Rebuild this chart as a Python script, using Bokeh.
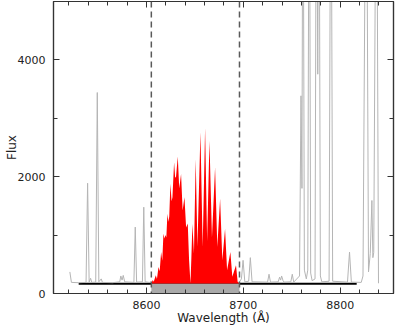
from bokeh.plotting import figure
from bokeh.models import (Range1d, FixedTicker, LinearAxis, Span,
                          CustomJSTickFormatter)
from bokeh.embed import file_html
from bokeh.resources import INLINE

# ---------------- data ----------------
GRAY_LEFT_WL = [8520.9, 8522.5, 8530.0, 8537.6, 8539.2, 8540.8, 8542.3, 8543.5,
                8547.6, 8549.2, 8550.8, 8553.3, 8554.5, 8565.0, 8572.4, 8573.5,
                8574.8, 8576.0, 8577.5, 8587.0, 8588.4, 8589.8, 8595.8, 8597.2,
                8598.6, 8603.0, 8605.0]
GRAY_LEFT_FLUX = [369, 190, 185, 190, 1888, 195, 260, 190,
                  195, 3441, 200, 250, 190, 185, 200, 300,
                  230, 310, 200, 190, 1137, 195, 200, 1478,
                  200, 190, 200]

GRAY_RIGHT_WL = [8696.0, 8698.0, 8699.7, 8701.5, 8705.5, 8707.2, 8709.0, 8725.0,
                 8726.5, 8728.0, 8736.0, 8737.4, 8738.5, 8739.5, 8741.0, 8742.0,
                 8749.0, 8750.5, 8752.0, 8758.0, 8759.5, 8760.5, 8761.5, 8763.0,
                 8765.0, 8766.5, 8768.0, 8769.5, 8771.0, 8774.0, 8775.5, 8776.8,
                 8778.0, 8779.5, 8781.0, 8788.5, 8790.4, 8792.2, 8807.5, 8809.6,
                 8811.5, 8821.7, 8823.5, 8826.9, 8829.2, 8831.0, 8832.7, 8833.7,
                 8834.6, 8837.4, 8839.5]
GRAY_RIGHT_FLUX = [200, 250, 568, 200, 210, 614, 200, 195,
                   330, 195, 200, 280, 230, 300, 220, 195,
                   200, 330, 195, 300, 3385, 1800, 9000, 400,
                   250, 400, 9000, 350, 220, 250, 9000, 3755,
                   9000, 300, 200, 210, 9000, 210, 195, 710,
                   195, 190, 300, 9000, 369, 683, 1593, 614,
                   700, 9000, 175]

RED_WL = [8605.0, 8606.5, 8607.5, 8609.6, 8610.8, 8612.4, 8613.6, 8615.1,
          8616.3, 8617.5, 8618.6, 8619.6, 8620.5, 8621.6, 8622.6, 8623.5,
          8624.7, 8625.9, 8626.8, 8628.5, 8629.6, 8630.5, 8632.3, 8633.8,
          8635.7, 8637.3, 8639.2, 8640.9, 8642.6, 8644.0, 8645.4, 8646.3,
          8647.4, 8649.0, 8650.8, 8652.6, 8655.7, 8658.0, 8660.5, 8662.6,
          8665.0, 8667.6, 8670.8, 8673.1, 8676.0, 8678.3, 8681.1, 8683.2,
          8686.6, 8688.6, 8692.4, 8694.1, 8696.0]
RED_FLUX = [170, 230, 200, 312, 250, 455, 380, 710,
            560, 1024, 940, 1000, 960, 1366, 1230, 1320,
            1878, 1580, 1650, 2247, 1980, 2000, 2344, 1800,
            2048, 1420, 1649, 1130, 1200, 560, 175, 600,
            1195, 683, 2304, 800, 2759, 800, 2833, 900,
            2617, 960, 2161, 800, 1621, 570, 1110, 400,
            710, 285, 483, 200, 170]

CONT_WL = [8530, 8817]
CONT_FLUX = [165, 165]
WINDOW = [8605, 8696]
CONT_LEVEL = 170

X_MAJOR = [8600, 8700, 8800]
X_MINOR = [8520, 8540, 8560, 8580, 8620, 8640, 8660, 8680,
           8720, 8740, 8760, 8780, 8820, 8840]
Y_MAJOR = [0, 2000, 4000]
Y_MINOR = [1000, 3000]

X_TITLE = "Wavelength (Å)"
Y_TITLE = "Flux"

# ---------------- figure ----------------
FONT = "DejaVu Sans"
AX_COLOR = "#333333"

p = figure(width=395, height=327, output_backend="svg", toolbar_location=None,
           x_range=Range1d(8504, 8855), y_range=Range1d(0, 5000),
           min_border_left=53, min_border_right=2, min_border_top=1,
           min_border_bottom=34, background_fill_color="white",
           border_fill_color="white")
p.styles = {"position": "absolute", "left": "0px", "top": "0px"}
p.grid.visible = False
p.outline_line_color = AX_COLOR
p.outline_line_width = 1.2

xt = FixedTicker(ticks=X_MAJOR, minor_ticks=X_MINOR)
yt = FixedTicker(ticks=Y_MAJOR, minor_ticks=Y_MINOR)


def style_axis(ax, labels=True):
    ax.axis_line_color = AX_COLOR
    ax.axis_line_width = 1.2
    ax.major_tick_line_color = AX_COLOR
    ax.minor_tick_line_color = AX_COLOR
    ax.major_tick_in = 6
    ax.major_tick_out = 0
    ax.minor_tick_in = 4
    ax.minor_tick_out = 0
    if labels:
        ax.major_label_text_font = FONT
        ax.major_label_text_font_size = "11px"
        ax.major_label_text_color = "#222222"
        ax.axis_label_text_font = FONT
        ax.axis_label_text_font_size = "12px"
        ax.axis_label_text_font_style = "normal"
        ax.axis_label_text_color = "#222222"
    else:
        ax.formatter = CustomJSTickFormatter(code="return ''")
        ax.major_label_standoff = 0


p.xaxis.ticker = xt
p.yaxis.ticker = yt
style_axis(p.xaxis[0])
style_axis(p.yaxis[0])
p.xaxis.axis_label = X_TITLE
p.yaxis.axis_label = Y_TITLE
p.xaxis.major_label_standoff = 7
p.xaxis.axis_label_standoff = -1
p.yaxis.major_label_standoff = 8
p.yaxis.axis_label_standoff = -4
p.yaxis.major_label_orientation = "horizontal"

top = LinearAxis(ticker=xt)
style_axis(top, labels=False)
p.add_layout(top, "above")
right = LinearAxis(ticker=yt)
style_axis(right, labels=False)
p.add_layout(right, "right")

# continuum line
p.line(CONT_WL, CONT_FLUX, line_color="black", line_width=2)

# grey band under the red window
p.varea(x=WINDOW, y1=[0, 0], y2=[CONT_LEVEL, CONT_LEVEL], fill_color="#aaaaaa")

# red filled spectrum in the window
p.varea(x=RED_WL, y1=CONT_LEVEL, y2=RED_FLUX, fill_color="#ff0000")

# grey spectrum outside the window
p.line(GRAY_LEFT_WL, GRAY_LEFT_FLUX, line_color="#b5b5b5", line_width=1)
p.line(GRAY_RIGHT_WL, GRAY_RIGHT_FLUX, line_color="#b5b5b5", line_width=1)

# dashed window limits
for w in WINDOW:
    p.add_layout(Span(location=w, dimension="height", line_color="#5a5a5a",
                      line_width=1.5, line_dash="6 4"))

open("out.html", "w").write(file_html(p, INLINE))
